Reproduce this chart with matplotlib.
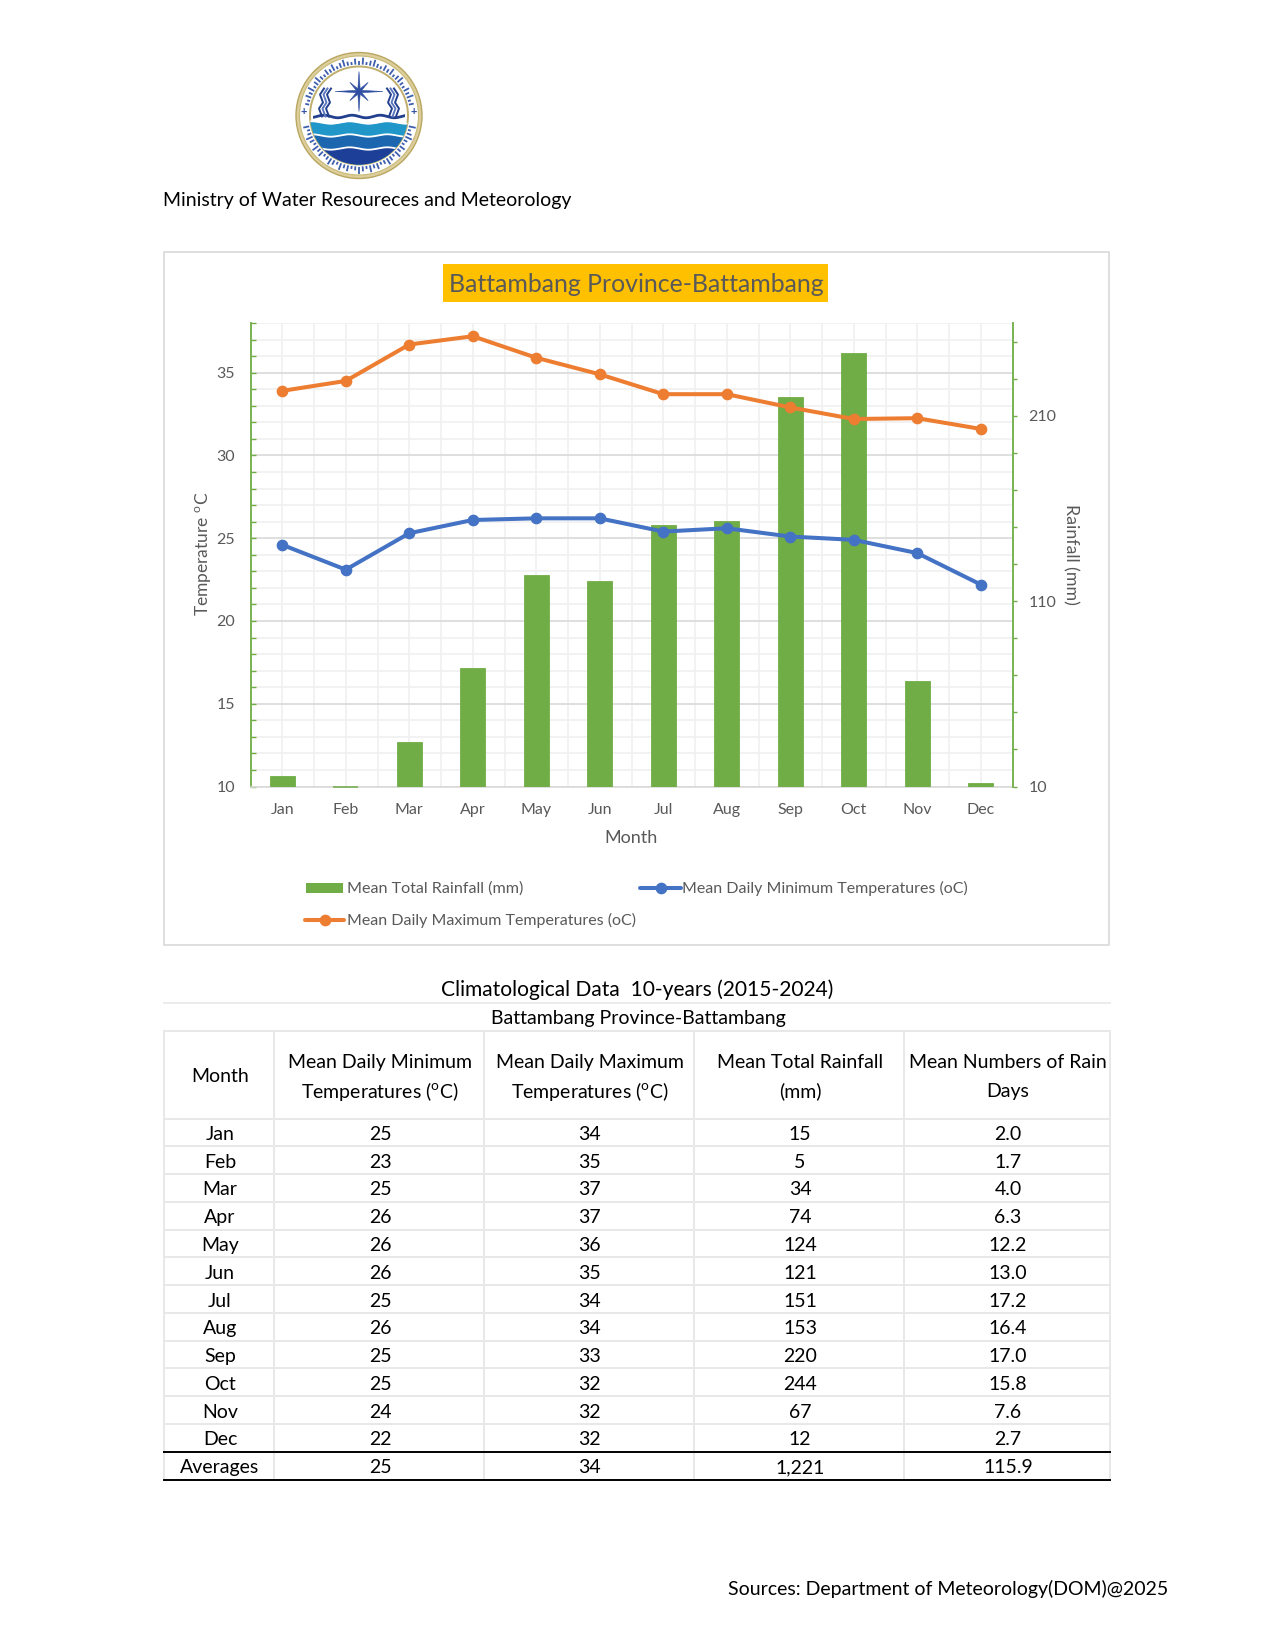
import numpy as np
import matplotlib
matplotlib.use("Agg")
import matplotlib.pyplot as plt
from matplotlib.patches import Circle, Rectangle, Polygon
from matplotlib.ticker import MultipleLocator, FixedLocator

plt.rcParams["font.family"] = ["Lato", "DejaVu Sans"]
plt.rcParams["mathtext.fontset"] = "custom"
plt.rcParams["mathtext.rm"] = "Lato"

# === DATA ===
months = ["Jan", "Feb", "Mar", "Apr", "May", "Jun", "Jul", "Aug", "Sep", "Oct", "Nov", "Dec"]
rainfall = [15.5, 5, 34, 74, 124, 121, 151, 153, 220, 244, 67, 12]
temp_min = [24.6, 23.1, 25.3, 26.1, 26.2, 26.2, 25.4, 25.6, 25.1, 24.9, 24.1, 22.2]
temp_max = [33.9, 34.5, 36.7, 37.2, 35.9, 34.9, 33.7, 33.7, 32.9, 32.2, 32.25, 31.6]

table_min = ["25", "23", "25", "26", "26", "26", "25", "26", "25", "25", "24", "22", "25"]
table_max = ["34", "35", "37", "37", "36", "35", "34", "34", "33", "32", "32", "32", "34"]
table_rain = ["15", "5", "34", "74", "124", "121", "151", "153", "220", "244", "67", "12", "1,221"]
table_days = ["2.0", "1.7", "4.0", "6.3", "12.2", "13.0", "17.2", "16.4", "17.0", "15.8", "7.6", "2.7", "115.9"]
table_rows = months + ["Averages"]

GREEN = "#70AD47"
BLUE = "#4472C4"
ORANGE = "#ED7D31"
GREY_TXT = "#595959"
W, H = 1275, 1650

fig = plt.figure(figsize=(W / 100, H / 100), dpi=100, facecolor="white")

# page layer in pixel coordinates
page = fig.add_axes([0, 0, 1, 1], zorder=0)
page.set_xlim(0, W)
page.set_ylim(H, 0)
page.axis("off")

# === LOGO ===
cx, cy, R = 359, 115.5, 63
NAVY = "#2F4FA2"
page.add_patch(Circle((cx, cy), R, fc="#DCCF9C", ec="#B9A660", lw=1))
page.add_patch(Circle((cx, cy), R - 3.5, fc="white", ec="#C8B878", lw=0.8))
inner = Circle((cx, cy), R - 14, fc="white", ec="#BFAE6C", lw=1.4)
page.add_patch(inner)

# ring lettering, drawn as small strokes
glyph_len = [3, 6, 4, 7, 3, 5, 7, 4]
for i, a in enumerate(np.linspace(0, 2 * np.pi, 88, endpoint=False)):
    if abs(np.cos(a)) > 0.985:
        continue
    r0 = R - 12
    r1 = r0 + glyph_len[i % 8]
    page.plot([cx + r0 * np.cos(a), cx + r1 * np.cos(a)],
              [cy + r0 * np.sin(a), cy + r1 * np.sin(a)],
              color="#3F5FAE", lw=1.3, solid_capstyle="butt")
for sx in (-1, 1):
    page.text(cx + sx * (R - 8), cy - 4, "+", color=NAVY, fontsize=8,
              ha="center", va="center", fontweight="bold")

# compass star
pts = []
for i in range(16):
    a = i * np.pi / 8 - np.pi / 2
    r = {0: 20, 1: 3, 2: 13, 3: 3}[i % 4]
    stretch = 1.2 if i % 8 == 4 else 1
    pts.append((cx + r * stretch * np.cos(a), cy - 24 + r * np.sin(a)))
page.add_patch(Polygon(pts, closed=True, fc=NAVY, ec=NAVY, lw=0.4))

# water bands
xs = np.linspace(cx - R, cx + R, 200)
bands = [(7, "#2196C9"), (20, "#1B66AE"), (33, "#1E3F98")]
for off, col in bands:
    yw = cy + off + 1.2 * np.sin((xs - cx) / 6.0)
    poly = page.fill_between(xs, yw, cy + R, color=col, lw=0)
    poly.set_clip_path(inner)
    ln, = page.plot(xs, yw, color="white", lw=1.3)
    ln.set_clip_path(inner)

# naga body and heads
body = Circle((cx, cy), R - 17, transform=page.transData)
ln, = page.plot(xs, cy + 1 + 1.3 * np.sin((xs - cx) / 4.5), color="#23408F", lw=2)
ln.set_clip_path(body)
for sx in (-1, 1):
    for k, col in enumerate(["#23408F", "#5B78BE", "#23408F"]):
        off = sx * (30 + k * 3.5)
        page.plot([cx + off, cx + off + sx * 3, cx + off - sx * 1, cx + off + sx * 2, cx + off - sx * 2],
                  [cy + 1, cy - 7, cy - 13, cy - 21, cy - 27], color=col, lw=1.4)

page.text(163, 200.5, "Ministry of Water Resoureces and Meteorology", fontsize=14.0,
          color="black", ha="left", va="center")

# === CHART FRAME ===
page.add_patch(Rectangle((163.5, 252), 945, 692.5, fc="white", ec="#D9D9D9", lw=1.2))
page.add_patch(Rectangle((443, 264), 385, 38, fc="#FFC000", ec="none", zorder=2))
page.text(636, 285, "Battambang Province-Battambang", fontsize=17.9, color=GREY_TXT,
          ha="center", va="center", zorder=3)

# === CHART AXES ===
L, T, Rt, B = 250.5, 323, 1012.5, 786.5
rect = [L / W, 1 - B / H, (Rt - L) / W, (B - T) / H]

ax = fig.add_axes(rect, zorder=1)
ax_bar = ax.twinx()
ax_bar.set_zorder(2)
ax_bar.patch.set_visible(False)
ax_line = ax.twinx()
ax_line.set_zorder(3)
ax_line.patch.set_visible(False)
ax_line.axis("off")

x = np.arange(len(months))
ax.set_xlim(-0.5, 11.5)
ax.set_ylim(10, 38)
ax_line.set_xlim(-0.5, 11.5)
ax_line.set_ylim(10, 38)
ax_bar.set_ylim(10, 260)

rain = np.array(rainfall)
ax_bar.bar(x, rain - 10, bottom=10, width=0.4, color=GREEN, edgecolor=GREEN, lw=0.6)
# values under the axis floor still show as a hairline
ax_bar.hlines(np.full((rain < 10).sum(), 10), x[rain < 10] - 0.2, x[rain < 10] + 0.2,
              color=GREEN, lw=1.1, clip_on=False)
ax_line.plot(x, temp_max, color=ORANGE, lw=2.9, marker="o", ms=7.4, solid_capstyle="round")
ax_line.plot(x, temp_min, color=BLUE, lw=2.9, marker="o", ms=7.4, solid_capstyle="round")

# left axis
ax.yaxis.set_major_locator(MultipleLocator(5))
ax.yaxis.set_minor_locator(MultipleLocator(1))
ax.tick_params(axis="y", which="both", direction="in", color=GREEN, width=1, length=3.5,
               labelsize=11.5, labelcolor=GREY_TXT, pad=11)
ax.set_xticks(x)
ax.set_xticklabels(months)
ax.xaxis.set_minor_locator(FixedLocator(np.arange(-0.5, 12, 1)))
ax.tick_params(axis="x", which="both", length=0, labelsize=11.5, labelcolor=GREY_TXT, pad=12.2)
ax.grid(True, which="major", axis="y", color="#DCDCDC", lw=1.3)
ax.grid(True, which="minor", axis="y", color="#F0F0F0", lw=1.2)
ax.grid(True, which="both", axis="x", color="#F0F0F0", lw=1.2)
ax.set_axisbelow(True)
for side in ("top", "right"):
    ax.spines[side].set_visible(False)
ax.spines["left"].set_color(GREEN)
ax.spines["left"].set_linewidth(1.3)
ax.spines["bottom"].set_color("#D9D9D9")
ax.spines["bottom"].set_linewidth(1.2)

# right axis
ax_bar.yaxis.set_major_locator(FixedLocator([10, 110, 210]))
ax_bar.yaxis.set_minor_locator(FixedLocator(np.arange(10, 260, 20)))
ax_bar.tick_params(axis="y", which="both", direction="out", color=GREEN, width=1, length=3,
                   labelsize=11.5, labelcolor=GREY_TXT, pad=8.5)
for side in ("top", "left", "bottom"):
    ax_bar.spines[side].set_visible(False)
ax_bar.spines["right"].set_color(GREEN)
ax_bar.spines["right"].set_linewidth(1.3)

page.text(631, 838, "Month", fontsize=13, color=GREY_TXT, ha="center", va="center")
page.text(204, 554, "Temperature $^{\\mathrm{o}}$C", fontsize=12.5, color=GREY_TXT, rotation=90,
          ha="center", va="center")
page.text(1070.5, 554, "Rainfall (mm)", fontsize=12.8, color=GREY_TXT, rotation=270,
          ha="center", va="center")

# === LEGEND ===
page.add_patch(Rectangle((306, 882.5), 37, 10, fc=GREEN, ec="none"))
page.text(347, 888.5, "Mean Total Rainfall (mm)", fontsize=11.6, color=GREY_TXT, va="center")
page.plot([640, 681], [887.5, 887.5], color=BLUE, lw=2.9, solid_capstyle="round")
page.plot([660.5], [887.5], color=BLUE, marker="o", ms=7.4)
page.text(682, 888.5, "Mean Daily Minimum Temperatures (oC)", fontsize=11.55, color=GREY_TXT, va="center")
page.plot([305, 344], [919.5, 919.5], color=ORANGE, lw=2.9, solid_capstyle="round")
page.plot([324.5], [919.5], color=ORANGE, marker="o", ms=7.4)
page.text(347, 920.5, "Mean Daily Maximum Temperatures (oC)", fontsize=11.5, color=GREY_TXT, va="center")

# === TABLE ===
col_edges = [164, 273.5, 484, 694, 904, 1110]
col_mid = [220, 380, 589.5, 800, 1008]
row_top = 1118.5
row_h = 27.77
GRID = "#E8E8E8"

page.text(637.5, 990, "Climatological Data  10-years (2015-2024)", fontsize=15.1, color="black",
          ha="center", va="center")
page.plot([164, 1110], [1002.5, 1002.5], color=GRID, lw=1.2)
page.text(638, 1018.5, "Battambang Province-Battambang", fontsize=14, color="black",
          ha="center", va="center")

page.plot([164, 1110], [1031, 1031], color=GRID, lw=1.4)
page.plot([164, 1110], [row_top, row_top], color=GRID, lw=1.4)
for i in range(1, 12):
    yy = row_top + i * row_h
    page.plot([164, 1110], [yy, yy], color=GRID, lw=1.4)
for e in col_edges:
    page.plot([e, e], [1031, 1479], color=GRID, lw=1.4)
page.plot([164, 1110], [row_top + 12 * row_h] * 2, color="black", lw=1.4)
page.plot([164, 1110], [row_top + 13 * row_h] * 2, color="black", lw=1.4)

header_lines = [
    ["Month"],
    ["Mean Daily Minimum", "Temperatures ($^{\\mathrm{o}}$C)"],
    ["Mean Daily Maximum", "Temperatures ($^{\\mathrm{o}}$C)"],
    ["Mean Total Rainfall", "(mm)"],
    ["Mean Numbers of Rain", "Days"],
]
for xc, lines in zip(col_mid, header_lines):
    if len(lines) == 1:
        page.text(xc, 1076.5, lines[0], fontsize=14, color="black", ha="center", va="center")
    else:
        page.text(xc, 1062.5, lines[0], fontsize=14, color="black", ha="center", va="center")
        page.text(xc, 1091.5, lines[1], fontsize=14, color="black", ha="center", va="center")

columns = [table_rows, table_min, table_max, table_rain, table_days]
for xc, col in zip(col_mid, columns):
    for i, val in enumerate(col):
        page.text(xc, row_top + (i + 0.5) * row_h + 2, val, fontsize=14, color="black",
                  ha="center", va="center")

page.text(1168.5, 1589, "Sources: Department of Meteorology(DOM)@2025", fontsize=14.05, color="black",
          ha="right", va="center")

plt.savefig("out.png", dpi=100)
